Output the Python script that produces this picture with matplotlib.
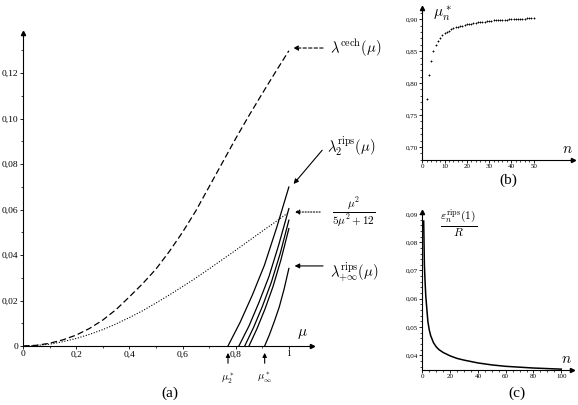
import numpy as np
import matplotlib
matplotlib.use("Agg")
import matplotlib.pyplot as plt
from matplotlib.ticker import MultipleLocator, FixedLocator, FuncFormatter

plt.rcParams["font.family"] = ["Liberation Serif", "DejaVu Serif"]
plt.rcParams["mathtext.fontset"] = "cm"

# panel (a)
mu_grid = [0.0, 0.05, 0.1, 0.15, 0.2, 0.25, 0.3, 0.35, 0.4, 0.45, 0.5,
           0.55, 0.6, 0.65, 0.7, 0.75, 0.8, 0.85, 0.9, 0.95, 1.0]
lam_cech = [0.0, 0.0003, 0.0012, 0.0027, 0.0048, 0.0077, 0.0114, 0.0160, 0.0216, 0.0274, 0.0338,
            0.0415, 0.0500, 0.0594, 0.0700, 0.0806, 0.0912, 0.1013, 0.1110, 0.1205, 0.1298]
lam_ratio = [0.0, 0.0002, 0.0008, 0.0019, 0.0033, 0.0051, 0.0072, 0.0097, 0.0125, 0.0155, 0.0189,
             0.0224, 0.0261, 0.0299, 0.0339, 0.0380, 0.0421, 0.0463, 0.0505, 0.0546, 0.0588]

rips_mu = [
    [0.771, 0.817, 0.863, 0.908, 0.954, 1.0],
    [0.812, 0.850, 0.887, 0.925, 0.962, 1.0],
    [0.834, 0.867, 0.900, 0.934, 0.967, 1.0],
    [0.850, 0.880, 0.910, 0.940, 0.970, 1.0],
    [0.909, 0.927, 0.945, 0.964, 0.982, 1.0],
]
rips_lam = [
    [0.0, 0.0105, 0.0225, 0.0355, 0.0520, 0.0699],
    [0.0, 0.0088, 0.0190, 0.0305, 0.0445, 0.0604],
    [0.0, 0.0081, 0.0173, 0.0280, 0.0405, 0.0553],
    [0.0, 0.0076, 0.0162, 0.0260, 0.0378, 0.0516],
    [0.0, 0.0050, 0.0107, 0.0172, 0.0250, 0.0341],
]
mu_star_2 = 0.771
mu_star_inf = 0.909

# panel (b)
n_b = list(range(2, 51))
mu_star = [0.775, 0.813, 0.835, 0.850, 0.860, 0.866, 0.871, 0.875, 0.878, 0.880,
           0.882, 0.884, 0.886, 0.887, 0.888, 0.889, 0.890, 0.891, 0.892, 0.892,
           0.893, 0.894, 0.894, 0.895, 0.895, 0.896, 0.896, 0.897, 0.897, 0.897,
           0.898, 0.898, 0.898, 0.899, 0.899, 0.899, 0.899, 0.900, 0.900, 0.900,
           0.900, 0.901, 0.901, 0.901, 0.901, 0.902, 0.902, 0.902, 0.902]

# panel (c)
n_c = [1, 1.5, 2, 2.5, 3, 4, 5, 6, 8, 10, 12, 15, 20, 25, 30, 40, 50, 60, 70, 80, 90, 100]
eps_c = [0.0875, 0.072, 0.066, 0.061, 0.058, 0.052, 0.049, 0.047, 0.0445, 0.0430, 0.0420,
         0.0410, 0.0398, 0.0389, 0.0383, 0.0373, 0.0366, 0.0361, 0.0358, 0.0355, 0.0353, 0.0351]


def comma(v, pos):
    s = "%g" % round(v, 4)
    return s.replace(".", ",")


def comma2(v, pos):
    if abs(v) < 1e-9:
        return "0"
    return ("%.2f" % v).replace(".", ",")


def arrow_axes(ax, fs):
    for s in ["top", "right"]:
        ax.spines[s].set_visible(False)
    for s in ["left", "bottom"]:
        ax.spines[s].set_linewidth(0.8)
    ax.plot(1, 0, ">k", ms=3, transform=ax.transAxes, clip_on=False)
    ax.plot(0, 1, "^k", ms=3, transform=ax.transAxes, clip_on=False)
    ax.tick_params(which="major", length=2.2, width=0.6, labelsize=fs, pad=1)
    ax.tick_params(which="minor", length=1.4, width=0.5)


fig = plt.figure(figsize=(5.78, 4.05), dpi=100)

# ---- (a)
ax = fig.add_axes([23 / 578, 59 / 405, 289 / 578, 313 / 405])
ax.set_xlim(0, 1.087)
ax.set_ylim(0, 0.1376)
arrow_axes(ax, 6.8)
ax.xaxis.set_major_locator(FixedLocator([0, 0.2, 0.4, 0.6, 0.8, 1.0]))
ax.xaxis.set_minor_locator(FixedLocator([0.1, 0.3, 0.5, 0.7, 0.9]))
ax.yaxis.set_major_locator(MultipleLocator(0.02))
ax.yaxis.set_minor_locator(MultipleLocator(0.01))
ax.xaxis.set_major_formatter(FuncFormatter(comma))
ax.yaxis.set_major_formatter(FuncFormatter(comma2))

ax.plot(mu_grid, lam_cech, color="k", lw=0.9, ls=(0, (5, 2.5)))
ax.plot(mu_grid, lam_ratio, color="k", lw=0.8, ls=(0, (1, 1.5)))
for m, l in zip(rips_mu, rips_lam):
    ax.plot(m, l, color="k", lw=0.9)

ax.text(1.154, 0.131, r"$\lambda^{\mathrm{cech}}(\mu)$", fontsize=10.5, va="center", clip_on=False)
ax.annotate("", xy=(1.006, 0.131), xytext=(1.139, 0.131), annotation_clip=False,
            arrowprops=dict(arrowstyle="-|>", lw=0.8, ls=(0, (3, 2)), color="k", mutation_scale=7))
ax.text(1.143, 0.0875, r"$\lambda_2^{\mathrm{rips}}(\mu)$", fontsize=10.5, va="center", clip_on=False)
ax.annotate("", xy=(1.011, 0.0703), xytext=(1.132, 0.087), annotation_clip=False,
            arrowprops=dict(arrowstyle="-|>", lw=0.8, color="k", mutation_scale=7))
ax.text(1.162, 0.0589, r"$\frac{\mu^2}{5\mu^2+12}$", fontsize=11.5, va="center", clip_on=False)
ax.annotate("", xy=(1.011, 0.0589), xytext=(1.128, 0.0589), annotation_clip=False,
            arrowprops=dict(arrowstyle="-|>", lw=0.8, ls=(0, (1, 1.5)), color="k", mutation_scale=7))
ax.text(1.154, 0.0325, r"$\lambda_{+\infty}^{\mathrm{rips}}(\mu)$", fontsize=10.5, va="center", clip_on=False)
ax.annotate("", xy=(1.011, 0.0352), xytext=(1.139, 0.0352), annotation_clip=False,
            arrowprops=dict(arrowstyle="-|>", lw=0.8, color="k", mutation_scale=7))
ax.text(1.049, 0.0053, r"$\mu$", fontsize=11, ha="center", va="center")

for ms, lab in [(mu_star_2, r"$\mu_2^*$"), (mu_star_inf, r"$\mu_\infty^*$")]:
    ax.annotate("", xy=(ms, -0.0018), xytext=(ms, -0.0088), annotation_clip=False,
                arrowprops=dict(arrowstyle="-|>", lw=0.8, color="k", mutation_scale=6))
    ax.text(ms, -0.0142, lab, fontsize=7.5, ha="center", va="center", clip_on=False)
ax.text(0.553, -0.0207, "(a)", fontsize=11, ha="center", va="center", clip_on=False)

# ---- (b)
bx = fig.add_axes([422.3 / 578, 245 / 405, 150.7 / 578, 151.7 / 405])
bx.set_xlim(0, 67.7)
bx.set_ylim(0.6796, 0.917)
arrow_axes(bx, 5)
bx.xaxis.set_major_locator(FixedLocator([0, 10, 20, 30, 40, 50]))
bx.xaxis.set_minor_locator(FixedLocator(list(range(2, 51, 2))))
bx.yaxis.set_major_locator(MultipleLocator(0.05))
bx.yaxis.set_minor_locator(MultipleLocator(0.01))
bx.yaxis.set_major_formatter(FuncFormatter(comma2))
bx.plot(n_b, mu_star, "k+", ms=1.8, mew=0.6)
bx.text(9, 0.908, r"$\mu_n^*$", fontsize=11, ha="center", va="center")
bx.text(65, 0.696, r"$n$", fontsize=11, ha="center", va="center")
fig.text(508 / 578, 1 - 180 / 405, "(b)", fontsize=11, ha="center", va="center")

# ---- (c)
cx = fig.add_axes([422.3 / 578, 35 / 405, 149.4 / 578, 158.3 / 405])
cx.set_xlim(0, 107.5)
cx.set_ylim(0.0348, 0.0908)
arrow_axes(cx, 5)
cx.xaxis.set_major_locator(FixedLocator([0, 20, 40, 60, 80, 100]))
cx.xaxis.set_minor_locator(FixedLocator(list(range(5, 101, 5))))
cx.yaxis.set_major_locator(MultipleLocator(0.01))
cx.yaxis.set_minor_locator(MultipleLocator(0.002))
cx.yaxis.set_major_formatter(FuncFormatter(comma2))
cx.plot(n_c, eps_c, color="k", lw=1.1)
cx.text(26, 0.0866, r"$\frac{\varepsilon_n^{\mathrm{rips}}(1)}{R}$", fontsize=12, ha="center", va="center")
cx.text(104, 0.0384, r"$n$", fontsize=11, ha="center", va="center")
fig.text(517 / 578, 1 - 393 / 405, "(c)", fontsize=11, ha="center", va="center")

fig.savefig("out.png", dpi=100)
